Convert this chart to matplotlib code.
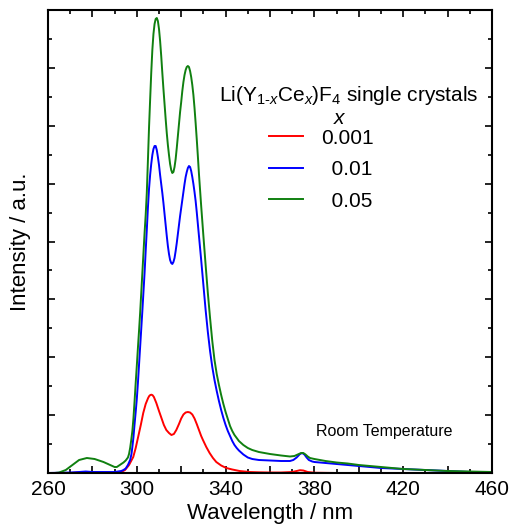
import matplotlib
matplotlib.use("Agg")
import matplotlib.pyplot as plt
from matplotlib.ticker import MultipleLocator, FuncFormatter
from matplotlib.lines import Line2D

plt.rcParams['font.family'] = ['Liberation Sans', 'DejaVu Sans']
plt.rcParams['mathtext.fontset'] = 'custom'
plt.rcParams['mathtext.rm'] = 'Liberation Sans'
plt.rcParams['mathtext.it'] = 'Liberation Sans:italic'

# ---- data (wavelength in nm, intensity in arbitrary units) ----
wl_green = [260, 263, 265, 268, 271, 274, 277.5, 281, 285, 289, 290, 291, 292, 293, 294, 295, 296,
            296.5, 297, 297.5, 298, 298.5, 299, 299.5, 300, 300.5, 301, 301.5, 302, 302.5, 303,
            303.5, 304, 304.5, 305, 305.5, 306, 306.5, 307, 307.5, 308, 308.5, 309, 309.5, 310,
            310.5, 311, 311.5, 312, 312.5, 313, 313.5, 314, 314.5, 315, 315.5, 316, 316.5, 317,
            317.5, 318, 318.5, 319, 319.5, 320, 320.5, 321, 321.5, 322, 322.5, 323, 323.5, 324,
            324.5, 325, 325.5, 326, 326.5, 327, 327.5, 328, 328.5, 329, 329.5, 330, 331, 332,
            333, 334, 335, 336, 337, 338, 339, 340, 341, 342, 343, 344, 345, 346, 347, 348, 350,
            352, 355, 360, 365, 369, 371, 372.5, 374, 375, 376, 377, 378, 380, 385, 390, 395,
            400, 410, 420, 430, 440, 450, 460]
int_green = [0, 0, 0.5, 3, 8, 13, 15, 14, 11, 7, 6, 6, 7.5, 9, 10.5, 12.5, 15.5,
             19, 25, 33, 42, 55, 72, 90, 107, 125, 142, 160, 180, 200, 220,
             240, 258, 280, 312, 345, 373, 400, 423, 439, 449, 454, 455, 452, 444,
             432, 417, 400, 384, 369, 354, 340, 328, 318, 309, 303, 300, 301, 306,
             314, 325, 337, 349, 361, 371, 382, 391, 398, 403, 406, 407, 406, 402,
             396, 388, 378, 365, 350, 334, 317, 299, 283, 267, 252, 237, 208, 180,
             155, 132, 113, 99, 88, 78, 69, 61, 54, 47, 42, 38, 35, 32, 30, 28, 25,
             23, 21, 19, 17.5, 16.5, 17, 18.5, 20, 20, 18.5, 16.5, 15, 14, 12, 10.5, 9.5,
             8, 6, 4, 3, 2, 1.5, 1]

wl_blue = [260, 270, 274, 277, 280, 285, 290, 293, 294, 295, 296, 297, 297.6, 298, 298.5, 299,
           299.5, 300, 300.5, 301, 301.5, 302, 302.5, 303, 303.5, 304, 304.5, 305, 305.5, 306,
           306.5, 307, 307.5, 308, 308.5, 309, 309.5, 310, 310.5, 311, 311.5, 312, 312.5, 313,
           313.5, 314, 314.5, 315, 315.5, 316, 316.5, 317, 317.5, 318, 318.5, 319, 319.5, 320,
           320.5, 321, 321.5, 322, 322.5, 323, 323.5, 324, 324.5, 325, 325.5, 326, 326.5, 327,
           327.5, 328, 328.5, 329, 330, 331, 332, 333, 334, 335, 336, 337, 338, 339, 340, 341,
           342, 343, 344, 345, 346, 348, 350, 352, 355, 360, 365, 369, 370.5, 372, 373.5, 374.5,
           375.5, 376.5, 377.5, 379, 380, 385, 390, 395, 400, 410, 420, 430, 440, 450, 460]
int_blue = [0, 0.5, 1, 1.5, 1, 1, 1, 2, 3, 4.5, 8, 13, 19, 26, 36, 49,
            61, 74, 90, 108, 126, 144, 162, 181, 200, 222, 243, 265, 284, 298,
            309, 318, 324, 327, 327, 323, 316, 308, 298, 289, 280, 270, 259, 248,
            237, 227, 219, 213, 210, 209, 211, 215, 222, 230, 239, 248, 257, 265,
            273, 281, 289, 296, 301, 305, 307, 306, 302, 296, 289, 281, 272, 261,
            249, 237, 225, 213, 188, 163, 141, 122, 106, 93, 82, 72, 63, 55, 48, 42,
            37, 32, 28, 25, 22.5, 18.5, 15.5, 14, 13, 12.5, 12, 12, 13, 15.5, 19, 20,
            18.5, 15.5, 13, 11.5, 11, 10, 9, 8, 7, 5, 4, 3, 2, 1, 0.5]

wl_red = [260, 270, 274, 277, 280, 285, 290, 293, 294.7, 296.5, 298.4, 299.5, 300.6, 301.8, 302.9,
          304, 305.1, 305.6, 306.1, 306.6, 307.1, 307.7, 308.8, 310, 311.1, 312.2, 313.3, 314.5,
          315.6, 316.7, 317.8, 319, 320, 321, 322, 323, 324, 325, 326, 327, 328, 329, 329.8,
          331.3, 332.8, 334.3, 335.8, 338, 340.3, 343, 346.3, 350.8, 355, 360, 365, 370, 372,
          373.5, 375, 377, 380, 390, 460]
int_red = [0, 0, 0.5, 1, 0.5, 0.3, 0.3, 1, 3, 8, 16, 25, 36, 48, 60,
           69, 75, 77, 78, 78.3, 77.8, 76, 70, 62, 55, 48, 43, 40,
           38, 39, 43, 49, 54.5, 58.5, 60.5, 61, 60.5, 58.5, 54.5, 49, 43, 37, 33,
           26, 20, 15, 11, 7.5, 5, 3.5, 2, 1, 0.7, 0.5, 0.5, 1, 2, 2.8, 2.5, 1, 0.3, 0, 0]

labels = ['0.001', '\u20020.01', '\u20020.05']
colors = ['#ff0000', '#0000ff', '#108010']
xticks_labeled = [260, 300, 340, 380, 420, 460]

fig = plt.figure(figsize=(5.13, 5.26), dpi=100)
ax = fig.add_axes([48/513, 53/526, 444/513, 463/526])

ax.plot(wl_red, int_red, color=colors[0], lw=1.4)
ax.plot(wl_blue, int_blue, color=colors[1], lw=1.4)
ax.plot(wl_green, int_green, color=colors[2], lw=1.4)

ax.set_xlim(260, 460)
ax.set_ylim(0, 463)
ax.xaxis.set_major_locator(MultipleLocator(20))
ax.xaxis.set_minor_locator(MultipleLocator(10))
ax.xaxis.set_major_formatter(FuncFormatter(
    lambda v, p: f"{int(round(v))}" if int(round(v)) in xticks_labeled else ""))
ax.yaxis.set_major_locator(MultipleLocator(463/8))
ax.yaxis.set_minor_locator(MultipleLocator(463/16))
ax.yaxis.set_major_formatter(FuncFormatter(lambda v, p: ""))
ax.tick_params(which='both', direction='in', top=True, right=True, width=1.2, labelsize=15, pad=5)
ax.tick_params(which='major', length=5)
ax.tick_params(which='minor', length=3)
for s in ax.spines.values():
    s.set_linewidth(1.5)

ax.set_xlabel('Wavelength / nm', fontsize=16, labelpad=3)
ax.set_ylabel('Intensity / a.u.', fontsize=16, labelpad=7)

ax.text(0.678, 0.803, r'Li(Y$_{1\text{-}x}$Ce$_{x}$)F$_{4}$ single crystals',
        transform=ax.transAxes, ha='center', va='baseline', fontsize=15)
ax.text(0.658, 0.754, r'$x$', transform=ax.transAxes, ha='center', va='baseline', fontsize=15)

handles = [Line2D([], [], color=c, lw=1.4) for c in colors]
ax.legend(handles, labels, loc='upper left', bbox_to_anchor=(0.498, 0.744),
          frameon=False, fontsize=15, borderpad=0, borderaxespad=0,
          handlelength=1.63, handletextpad=0.87, labelspacing=0.6)

ax.text(0.604, 0.080, 'Room Temperature', transform=ax.transAxes,
        ha='left', va='baseline', fontsize=11.5)

fig.savefig('out.png', dpi=100)
